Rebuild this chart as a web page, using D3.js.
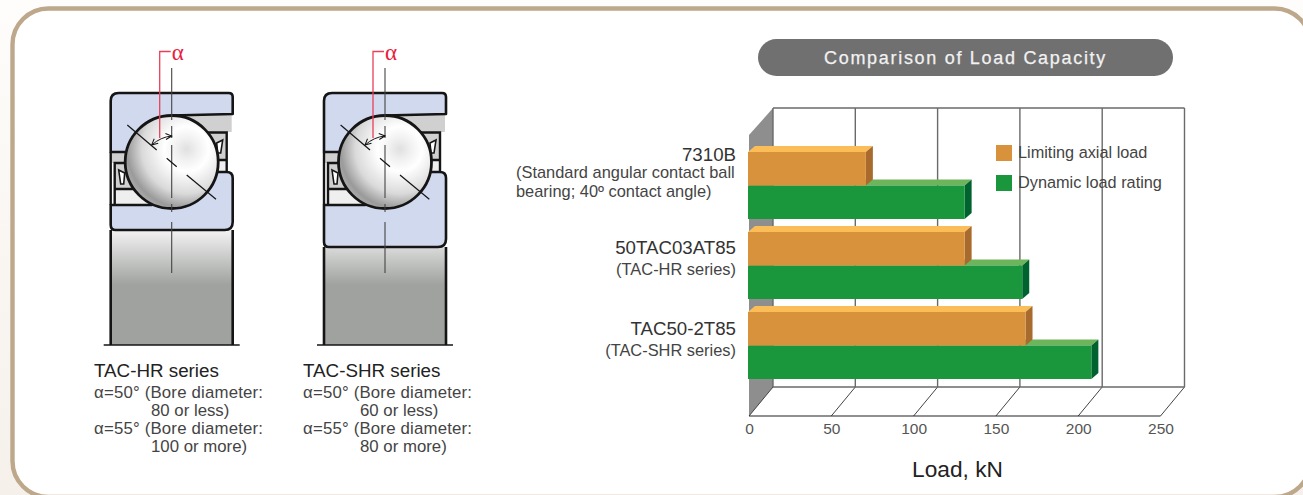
<!DOCTYPE html>
<html lang="en">
<head>
<meta charset="UTF-8">
<title>Comparison of Load Capacity</title>
<script src="https://d3js.org/d3.v7.min.js"></script>
<style>
  html, body { margin: 0; padding: 0; background: #fff; overflow: hidden; }
  svg { display: block; font-family: "Liberation Sans", Arial, sans-serif; }
</style>
</head>
<body>
<div id="chart"></div>
<script>
// chart data
const categories = ["7310B", "50TAC03AT85", "TAC50-2T85"];
const limitingAxial = [71, 131, 168];
const dynamicRating = [131, 166, 208];
const xTicks = [0, 50, 100, 150, 200, 250];
const seriesNames = ["Limiting axial load", "Dynamic load rating"];

// left hand text
const bearingNames = ["TAC-HR series", "TAC-SHR series"];
const bearingNotes = [
  ["\u03B1=50\u00B0 (Bore diameter:", "80 or less)", "\u03B1=55\u00B0 (Bore diameter:", "100 or more)"],
  ["\u03B1=50\u00B0 (Bore diameter:", "60 or less)", "\u03B1=55\u00B0 (Bore diameter:", "80 or more)"]
];
const categoryNotes = [
  ["(Standard angular contact ball", "bearing; 40\u00BA contact angle)"],
  ["(TAC-HR series)"],
  ["(TAC-SHR series)"]
];

const width = 1303, height = 495;
const svg = d3.select("#chart").append("svg").attr("width", width).attr("height", height);
const defs = svg.append("defs");

// page background, a little warmer towards the bottom
const pageGrad = defs.append("linearGradient").attr("id", "pageGrad").attr("x1", 0).attr("x2", 0).attr("y1", 0).attr("y2", 1);
pageGrad.append("stop").attr("offset", "0").attr("stop-color", "#fefdfb");
pageGrad.append("stop").attr("offset", "1").attr("stop-color", "#f5f0ea");
svg.append("rect").attr("width", width).attr("height", height).attr("fill", "url(#pageGrad)");

// panel frame
svg.append("rect")
  .attr("x", 12.5).attr("y", 8.5).attr("width", 1298).attr("height", 488.5).attr("rx", 36)
  .attr("fill", "#fff").attr("stroke", "#bda88b").attr("stroke-width", 4.4);

// ---- bearing drawings ----
const bodyGrad = defs.append("linearGradient").attr("id", "bodyGrad").attr("gradientUnits", "userSpaceOnUse")
  .attr("x1", 0).attr("x2", 0).attr("y1", 230).attr("y2", 285);
bodyGrad.append("stop").attr("offset", "0").attr("stop-color", "#f2f3f2");
bodyGrad.append("stop").attr("offset", "1").attr("stop-color", "#a0a2a0");

const ballGrad = defs.append("radialGradient").attr("id", "ballGrad")
  .attr("cx", 0.66).attr("cy", 0.36).attr("r", 0.8);
ballGrad.append("stop").attr("offset", "0").attr("stop-color", "#e0e0e0");
ballGrad.append("stop").attr("offset", "0.14").attr("stop-color", "#f0f0f0");
ballGrad.append("stop").attr("offset", "0.3").attr("stop-color", "#ffffff");
ballGrad.append("stop").attr("offset", "0.6").attr("stop-color", "#dadada");
ballGrad.append("stop").attr("offset", "0.8").attr("stop-color", "#9a9a9a");
ballGrad.append("stop").attr("offset", "1").attr("stop-color", "#c4c4c4");

defs.append("marker").attr("id", "arrowHead").attr("viewBox", "0 0 8 8").attr("refX", 7).attr("refY", 4)
  .attr("markerWidth", 8).attr("markerHeight", 8).attr("orient", "auto-start-reverse")
  .append("path").attr("d", "M1,1L7,4L1,7").attr("fill", "none").attr("stroke", "#111").attr("stroke-width", 1);

const ink = "#151515";
const blue = "#d1d9ee";

function drawBearing(cx, ringBottom, name, notes, textX, noteX) {
  const g = svg.append("g").attr("transform", `translate(${cx},0)`);

  // lower body
  g.append("rect").attr("x", -61).attr("y", ringBottom).attr("width", 122).attr("height", 345 - ringBottom)
    .attr("fill", "url(#bodyGrad)");
  g.append("path").attr("d", `M-61,${ringBottom}V345M61,${ringBottom}V345`).attr("stroke", ink).attr("stroke-width", 2.6);
  g.append("path").attr("d", "M-68,345H68").attr("stroke", ink).attr("stroke-width", 1.4);

  // space between the rings
  g.append("path").attr("d", "M-57,189H-20V205H-57Z").attr("fill", "#efefef");
  g.append("path").attr("d", "M-57,163H-30V189H-57Z").attr("fill", "#cfd0cf");
  g.append("path").attr("d", "M-61,152H-20V163H-61Z").attr("fill", "#cfd0cf");
  g.append("path").attr("d", "M0,115H60V132H0Z M30,132H55V160H30Z").attr("fill", "#cfd0cf");
  g.append("path").attr("d", "M30,160H55V172H30Z").attr("fill", "#efefef");
  // cage outlines
  g.append("path").attr("d", "M-30,163H-57V205M-57,189H-20").attr("fill", "none").attr("stroke", ink).attr("stroke-width", 2.4);
  g.append("path").attr("d", "M36,132.5H55V172M36,160H55").attr("fill", "none").attr("stroke", ink).attr("stroke-width", 2.4);
  // cage pockets
  g.append("path").attr("d", "M-53,170L-47,173L-48,184L-51,184Z M51,140L45,143L46,153L49,153Z")
    .attr("fill", "#fff").attr("stroke", ink).attr("stroke-width", 1.6);
  g.append("path").attr("d", "M-61,152V205").attr("fill", "none").attr("stroke", ink).attr("stroke-width", 2.4);

  // outer ring
  g.append("path")
    .attr("d", "M-61,152V101Q-61,93 -53,93H57Q61,93 61,97V114L0,115.5L-30,152Z")
    .attr("fill", blue).attr("stroke", ink).attr("stroke-width", 2.6).attr("stroke-linejoin", "round");

  // inner ring
  g.append("path")
    .attr("d", `M-61,205H-20L30,172H55Q61,172 61,178V${ringBottom - 8}Q61,${ringBottom} 53,${ringBottom}H-56Q-61,${ringBottom} -61,${ringBottom - 5}Z`)
    .attr("fill", blue).attr("stroke", ink).attr("stroke-width", 2.6).attr("stroke-linejoin", "round");

  // ball
  g.append("circle").attr("cx", 0).attr("cy", 162).attr("r", 46.5)
    .attr("fill", "url(#ballGrad)").attr("stroke", ink).attr("stroke-width", 2.8);

  // red leader
  g.append("path").attr("d", "M-12,138V51.5H-1").attr("fill", "none").attr("stroke", "#e8405a").attr("stroke-width", 1.3);
  g.append("text").attr("x", 0).attr("y", 60).attr("font-size", 23).attr("font-family", "Liberation Serif")
    .attr("fill", "#e8213f").text("\u03B1");

  // centre line
  [[68, 120], [126, 138], [145, 198], [204, 212], [222, 273]].forEach(s => {
    g.append("line").attr("x1", 0).attr("x2", 0).attr("y1", s[0]).attr("y2", s[1])
      .attr("stroke", "#444").attr("stroke-width", 1.1);
  });
  // contact line
  [[-44.4, 125, -15, 150], [-5, 158.3, 5, 166.7], [15, 175, 44.3, 199.3]].forEach(s => {
    g.append("line").attr("x1", s[0]).attr("y1", s[1]).attr("x2", s[2]).attr("y2", s[3])
      .attr("stroke", ink).attr("stroke-width", 1.2);
  });
  // angle arrow
  g.append("path").attr("d", "M-20,145Q-11,137 0,136").attr("fill", "none").attr("stroke", ink).attr("stroke-width", 1)
    .attr("marker-start", "url(#arrowHead)").attr("marker-end", "url(#arrowHead)");

  // captions
  svg.append("text").attr("x", textX).attr("y", 377).attr("font-size", 18.8).attr("fill", "#222").text(name);
  notes.forEach((t, i) => {
    svg.append("text").attr("x", i % 2 ? noteX : textX).attr("y", 398 + i * 18)
      .attr("font-size", 16.8).attr("textLength", i % 2 ? null : 169).attr("fill", "#444").text(t);
  });
}
drawBearing(171.7, 230, bearingNames[0], bearingNotes[0], 94, 151);
drawBearing(385, 247, bearingNames[1], bearingNotes[1], 303, 360);

// ---- title pill ----
svg.append("rect").attr("x", 758).attr("y", 39).attr("width", 415).attr("height", 37).attr("rx", 18.5).attr("fill", "#707070");
svg.append("text").attr("x", 965.5).attr("y", 64).attr("text-anchor", "middle").attr("fill", "#f2f2f2")
  .attr("font-size", 18).attr("letter-spacing", 1.7)
  .style("stroke", "#f2f2f2").style("stroke-width", 0.25).text("Comparison of Load Capacity");

// ---- 3D bar chart ----
const x = d3.scaleLinear().domain([0, 250]).range([749, 1160.5]);
const y = d3.scaleBand().domain(categories).range([152, 392]).paddingInner(0).paddingOuter(0);
const sub = d3.scaleBand().domain(seriesNames).range([0, 67]);

const depthX = 24, floorY = 416, backFloorY = 387, topY = 108;
const wallColor = "#8e8e8e", gridColor = "#6a6a6a";

// left wall
svg.append("path")
  .attr("d", `M${x(0) + depthX},${topY}L${x(0)},135V${floorY}L${x(0) + depthX},${backFloorY}Z`)
  .attr("fill", wallColor);

// back wall and floor
xTicks.forEach(t => {
  svg.append("line").attr("x1", x(t) + depthX).attr("x2", x(t) + depthX).attr("y1", topY).attr("y2", backFloorY)
    .attr("stroke", gridColor).attr("stroke-width", 1.4);
  svg.append("line").attr("x1", x(t) + depthX).attr("x2", x(t)).attr("y1", backFloorY).attr("y2", floorY)
    .attr("stroke", "#444").attr("stroke-width", 1);
});
svg.append("path").attr("d", `M${x(0) + depthX},${topY}H${x(250) + depthX}`).attr("stroke", gridColor).attr("stroke-width", 1.4);
svg.append("path").attr("d", `M${x(0) + depthX},${backFloorY}H${x(250) + depthX}`).attr("stroke", gridColor).attr("stroke-width", 1.4);

// bars, green first so the orange side sits over the green top
const barDX = 7, barDY = 6;
function drawBar(cat, series, value, cols) {
  const x0 = x(0) - 1, x1 = x(value), top = y(cat) + sub(series), h = sub.bandwidth();
  const g = svg.append("g");
  g.append("path").attr("fill", cols.top)
    .attr("d", `M${x0},${top}L${x0 + barDX},${top - barDY}H${x1 + barDX}L${x1},${top}Z`);
  g.append("path").attr("fill", cols.side)
    .attr("d", `M${x1},${top}L${x1 + barDX},${top - barDY}V${top + h - barDY}L${x1},${top + h}Z`);
  g.append("rect").attr("x", x0).attr("y", top).attr("width", x1 - x0).attr("height", h).attr("fill", cols.front);
}
const orange = { front: "#d9923c", top: "#fbbd57", side: "#a96a2e" };
const green = { front: "#1a963c", top: "#6db45a", side: "#00622f" };
categories.forEach((c, i) => {
  drawBar(c, seriesNames[1], dynamicRating[i], green);
  drawBar(c, seriesNames[0], limitingAxial[i], orange);
});

// front floor line
svg.append("path").attr("d", `M${x(0)},${floorY}H${x(250)}`).attr("stroke", "#222").attr("stroke-width", 1.2);

// x axis labels
const axis = svg.append("g").attr("transform", `translate(0,${floorY})`)
  .call(d3.axisBottom(x).tickValues(xTicks).tickSize(0).tickPadding(7));
axis.select(".domain").remove();
axis.selectAll("text").attr("font-size", 15.5).attr("font-family", "Liberation Sans").attr("fill", "#555");
svg.append("text").attr("x", 957.5).attr("y", 477).attr("text-anchor", "middle").attr("font-size", 22.7).attr("fill", "#222").text("Load, kN");

// category labels
const labelY = [161, 254, 335];
const noteY = [[178, 197], [275], [356]];
categories.forEach((c, i) => {
  svg.append("text").attr("x", 736).attr("y", labelY[i]).attr("text-anchor", "end")
    .attr("font-size", 18.7).attr("fill", "#333").text(c);
  categoryNotes[i].forEach((t, j) => {
    const sel = svg.append("text").attr("y", noteY[i][j]).attr("font-size", 16.4).attr("fill", "#444").text(t);
    if (i === 0) sel.attr("x", 516);
    else sel.attr("x", 736).attr("text-anchor", "end");
  });
});

// legend
const legendColors = [orange.front, green.front];
seriesNames.forEach((s, i) => {
  svg.append("rect").attr("x", 996).attr("y", 145 + i * 30).attr("width", 16).attr("height", 16).attr("fill", legendColors[i]);
  svg.append("text").attr("x", 1018).attr("y", 158 + i * 30).attr("font-size", 16.3).attr("fill", "#444").text(s);
});
</script>
</body>
</html>
